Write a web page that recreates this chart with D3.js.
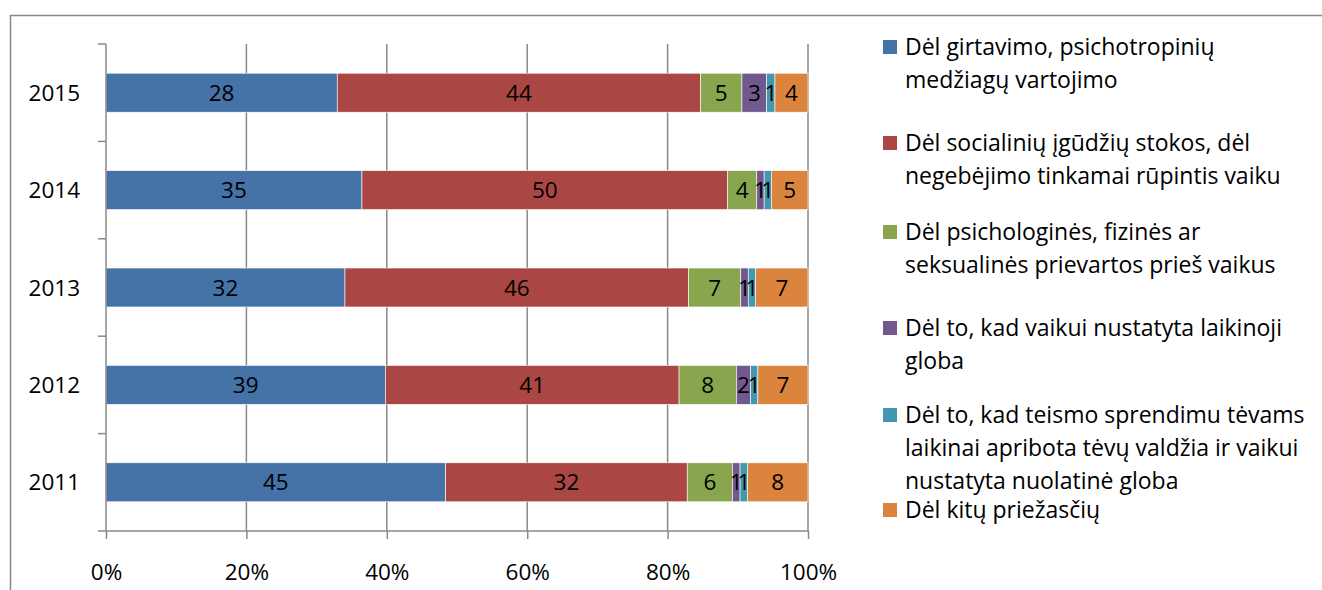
<!DOCTYPE html>
<html>
<head>
<meta charset="utf-8">
<script src="https://cdn.jsdelivr.net/npm/d3@7"></script>
<style>
  body { margin: 0; background: #fff; }
  text { font-family: "Open Sans", sans-serif; fill: #000; }
</style>
</head>
<body>
<script>
var years = ["2015", "2014", "2013", "2012", "2011"];
var seriesNames = [
  "Dėl girtavimo, psichotropinių medžiagų vartojimo",
  "Dėl socialinių įgūdžių stokos, dėl negebėjimo tinkamai rūpintis vaiku",
  "Dėl psichologinės, fizinės ar seksualinės prievartos prieš vaikus",
  "Dėl to, kad vaikui nustatyta laikinoji globa",
  "Dėl to, kad teismo sprendimu tėvams laikinai apribota tėvų valdžia ir vaikui nustatyta nuolatinė globa",
  "Dėl kitų priežasčių"
];
var legendLines = [
  ["Dėl girtavimo, psichotropinių", "medžiagų vartojimo"],
  ["Dėl socialinių įgūdžių stokos, dėl", "negebėjimo tinkamai rūpintis vaiku"],
  ["Dėl psichologinės, fizinės ar", "seksualinės prievartos prieš vaikus"],
  ["Dėl to, kad vaikui nustatyta laikinoji", "globa"],
  ["Dėl to, kad teismo sprendimu tėvams", "laikinai apribota tėvų valdžia ir vaikui", "nustatyta nuolatinė globa"],
  ["Dėl kitų priežasčių"]
];
var girtavimas   = [28, 35, 32, 39, 45];
var socialiniai  = [44, 50, 46, 41, 32];
var prievarta    = [5, 4, 7, 8, 6];
var laikinoji    = [3, 1, 1, 2, 1];
var nuolatine    = [1, 1, 1, 1, 1];
var kitos        = [4, 5, 7, 7, 8];
var xTicks = [0, 0.2, 0.4, 0.6, 0.8, 1];

var colors = ["#4572A7", "#AA4643", "#89A54E", "#71588F", "#4198AF", "#DB843D"];
var seriesValues = [girtavimas, socialiniai, prievarta, laikinoji, nuolatine, kitos];

var W = 1322, H = 590;
var margin = {top: 44, left: 106},
    width = 702, height = 487;
var fs = "22.5px";

var svg = d3.select("body").append("svg")
    .attr("width", W).attr("height", H);

// chart border
svg.append("rect")
    .attr("x", 10.5).attr("y", 15.5)
    .attr("width", W + 20).attr("height", H + 20)
    .attr("fill", "none").attr("stroke", "#898989").attr("stroke-width", 1.5);

var rows = years.map(function(y, i) {
  var r = {year: y};
  seriesValues.forEach(function(s, j) { r["s" + j] = s[i]; });
  return r;
});
var keys = seriesValues.map(function(s, j) { return "s" + j; });
var stack = d3.stack().keys(keys).offset(d3.stackOffsetExpand);
var layers = stack(rows);

var x = d3.scaleLinear().domain([0, 1]).range([0, width]);
var y = d3.scaleBand().domain(years).range([0, height]).paddingInner(0.6).paddingOuter(0.3);

var g = svg.append("g")
    .attr("transform", "translate(" + margin.left + "," + margin.top + ")");

// gridlines
g.selectAll(".grid").data(xTicks.slice(1)).enter().append("line")
    .attr("x1", function(d) { return x(d); }).attr("x2", function(d) { return x(d); })
    .attr("y1", 0).attr("y2", height)
    .attr("stroke", "#898989").attr("stroke-width", 1.5);

// bars
var layer = g.selectAll(".layer").data(layers).enter().append("g")
    .attr("fill", function(d, i) { return colors[i]; });

layer.selectAll("rect").data(function(d) { return d; }).enter().append("rect")
    .attr("x", function(d) { return x(d[0]); })
    .attr("y", function(d) { return y(d.data.year); })
    .attr("width", function(d) { return x(d[1]) - x(d[0]); })
    .attr("height", y.bandwidth())
    .attr("stroke", "#fff").attr("stroke-width", 0.6);

// labels
layer.selectAll("text").data(function(d) { return d.map(function(p) { p.key = d.key; return p; }); })
  .enter().append("text")
    .attr("x", function(d) { return (x(d[0]) + x(d[1])) / 2; })
    .attr("y", function(d) { return y(d.data.year) + y.bandwidth() / 2; })
    .attr("dy", "0.36em")
    .attr("text-anchor", "middle")
    .style("font-size", fs)
    .text(function(d) { return d.data[d.key]; });

// x axis
var xAxis = g.append("g")
    .attr("transform", "translate(0," + height + ")")
    .call(d3.axisBottom(x).tickValues(xTicks).tickFormat(d3.format(".0%")).tickSize(8).tickSizeOuter(0));
xAxis.select(".domain").attr("stroke", "#898989").attr("stroke-width", 1.5)
    .attr("d", "M-8,0H" + width);
xAxis.selectAll(".tick line").attr("stroke", "#898989").attr("stroke-width", 1.5);
xAxis.selectAll(".tick text").style("font-size", fs).attr("y", 30).attr("dy", "0.36em").attr("y", 41);

// y axis (ticks between categories)
var yAxis = g.append("g");
yAxis.append("line").attr("x1", 0).attr("x2", 0).attr("y1", 0).attr("y2", height)
    .attr("stroke", "#898989").attr("stroke-width", 1.5);
var step = height / years.length;
yAxis.selectAll(".yt").data(d3.range(years.length)).enter().append("line")
    .attr("x1", -8).attr("x2", 0)
    .attr("y1", function(d) { return d * step; }).attr("y2", function(d) { return d * step; })
    .attr("stroke", "#898989").attr("stroke-width", 1.5);
yAxis.selectAll(".yl").data(years).enter().append("text")
    .attr("x", -26)
    .attr("y", function(d) { return y(d) + y.bandwidth() / 2; })
    .attr("dy", "0.36em")
    .attr("text-anchor", "end")
    .style("font-size", fs)
    .text(function(d) { return d; });

// legend
var legendTop = [47, 143, 232, 328, 415, 510];
var legend = svg.append("g");
legendLines.forEach(function(lines, i) {
  var lg = legend.append("g").attr("transform", "translate(883," + legendTop[i] + ")");
  lg.append("rect").attr("x", 0).attr("y", -7).attr("width", 14).attr("height", 14)
      .attr("fill", colors[i]);
  lines.forEach(function(t, k) {
    lg.append("text").attr("x", 22).attr("y", k * 33).attr("dy", "0.36em")
        .style("font-size", "23px").text(t);
  });
});
</script>
</body>
</html>
